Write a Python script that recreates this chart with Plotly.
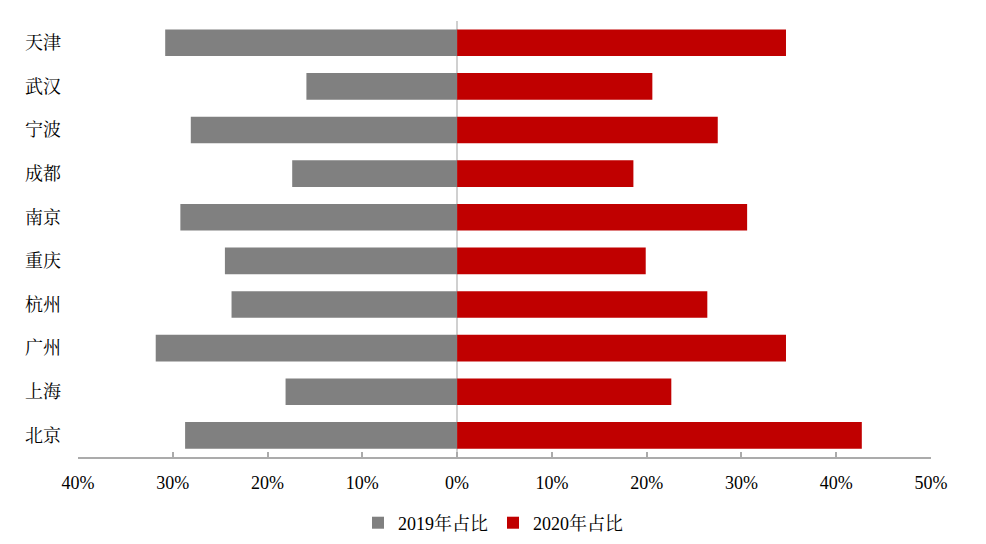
import plotly.graph_objects as go

cities = ["天津", "武汉", "宁波", "成都", "南京", "重庆", "杭州", "广州", "上海", "北京"]
share_2019 = [30.8, 15.9, 28.1, 17.4, 29.2, 24.5, 23.8, 31.8, 18.1, 28.7]
share_2020 = [34.7, 20.6, 27.5, 18.6, 30.6, 19.9, 26.4, 34.7, 22.6, 42.7]
tick_vals = [-40, -30, -20, -10, 0, 10, 20, 30, 40, 50]
tick_text = ["40%", "30%", "20%", "10%", "0%", "10%", "20%", "30%", "40%", "50%"]

FONT = "Liberation Serif, 'Noto Serif CJK SC', 'Noto Sans CJK SC', serif"

fig = go.Figure()
fig.add_trace(go.Bar(
    y=cities, x=[-v for v in share_2019], orientation="h",
    name="2019年占比", marker=dict(color="#808080", line=dict(width=0)),
))
fig.add_trace(go.Bar(
    y=cities, x=share_2020, orientation="h",
    name="2020年占比", marker=dict(color="#C00000", line=dict(width=0)),
))

fig.update_layout(
    width=970, height=528,
    barmode="relative", bargap=0.39,
    paper_bgcolor="white", plot_bgcolor="white",
    margin=dict(l=70, r=47, t=13, b=71),
    font=dict(family=FONT, size=18, color="black"),
    showlegend=True,
    legend=dict(orientation="h", xref="container", x=0.5, xanchor="center",
                yref="container", y=0.0246, yanchor="middle",
                font=dict(size=18), itemwidth=30, tracegroupgap=0,
                bgcolor="rgba(0,0,0,0)"),
    xaxis=dict(range=[-40, 50], tickvals=tick_vals, ticktext=tick_text,
               showgrid=False, zeroline=True, zerolinecolor="#D0D0D0", zerolinewidth=1.5,
               showline=True, linecolor="#ABABAB", linewidth=1.5,
               ticks="inside", ticklen=5, tickcolor="#ABABAB", tickwidth=1.5,
               tickfont=dict(size=18, family=FONT), ticklabelstandoff=8),
    yaxis=dict(categoryorder="array", categoryarray=cities, autorange="reversed",
               showgrid=False, zeroline=False, showline=False, ticks="",
               tickfont=dict(size=18, family=FONT), ticklabelstandoff=16),
)

fig.write_html("out.html")
